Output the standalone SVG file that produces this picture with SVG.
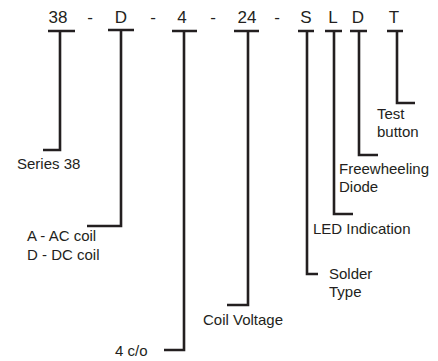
<svg xmlns="http://www.w3.org/2000/svg" width="438" height="361" viewBox="0 0 438 361">
<style>
.code{font-family:"Liberation Sans",Arial,sans-serif;font-size:17px;fill:#231f20;text-anchor:middle}
.lbl{font-family:"Liberation Sans",Arial,sans-serif;font-size:15px;fill:#231f20}
.ln{fill:none;stroke:#231f20;stroke-width:2.6;stroke-linejoin:miter;stroke-linecap:butt}
</style>
<rect width="438" height="361" fill="#ffffff"/>
<g id="code">
<text class="code" x="58" y="23">38</text>
<text class="code" x="90" y="23">-</text>
<text class="code" x="121" y="23">D</text>
<text class="code" x="153" y="23">-</text>
<text class="code" x="182" y="23">4</text>
<text class="code" x="213" y="23">-</text>
<text class="code" x="247" y="23">24</text>
<text class="code" x="277" y="23">-</text>
<text class="code" x="306" y="23">S</text>
<text class="code" x="333" y="23">L</text>
<text class="code" x="358" y="23">D</text>
<text class="code" x="394" y="23">T</text>
</g>
<g id="connectors">
<path class="ln" d="M48,31H75M60,31V150H43"/>
<path class="ln" d="M108,30H134M121,30V226H87"/>
<path class="ln" d="M172,31H197M184,31V350H164"/>
<path class="ln" d="M234,31H259M248,31V305H227"/>
<path class="ln" d="M298,31H314M307,31V274H318"/>
<path class="ln" d="M325,31H342M334,31V214H353"/>
<path class="ln" d="M350,31H367M359,31V155H378"/>
<path class="ln" d="M387,31H403M397,31V103H415"/>
</g>
<g id="series">
<text class="lbl" x="17" y="169">Series 38</text>
</g>
<g id="coil">
<text class="lbl" x="27" y="241">A - AC coil</text>
<text class="lbl" x="27" y="260">D - DC coil</text>
</g>
<g id="contacts">
<text class="lbl" x="115" y="356">4 c/o</text>
</g>
<g id="voltage">
<text class="lbl" x="203" y="325">Coil Voltage</text>
</g>
<g id="solder">
<text class="lbl" x="329" y="279">Solder</text>
<text class="lbl" x="329" y="297">Type</text>
</g>
<g id="led">
<text class="lbl" x="313" y="234">LED Indication</text>
</g>
<g id="diode">
<text class="lbl" x="339" y="174">Freewheeling</text>
<text class="lbl" x="339" y="192">Diode</text>
</g>
<g id="test">
<text class="lbl" x="377" y="119">Test</text>
<text class="lbl" x="377" y="137">button</text>
</g>
</svg>
